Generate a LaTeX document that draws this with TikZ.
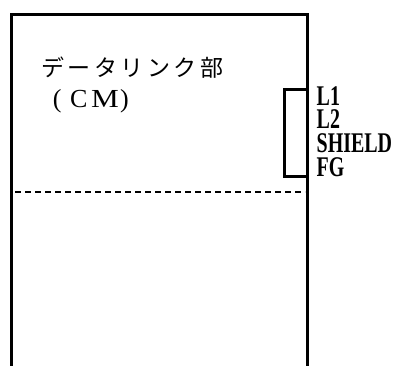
\documentclass[tikz,border=0pt]{standalone}
\usepackage{fontspec}
\setmainfont{Liberation Serif}
\newfontfamily\cjk{Noto Sans CJK JP}
\newcommand\jch[1]{\makebox[26.5pt]{#1}}
\newcommand\narrow[1]{\scalebox{0.70}[1]{#1}}
\begin{document}
\begin{tikzpicture}[x=1pt,y=-1pt,
  frame/.style={line width=3pt,line cap=butt,line join=miter},
  sep/.style={line width=1.3pt,dash pattern=on 6pt off 4pt},
  lbl/.style={anchor=base west,inner sep=0pt,align=left,
    font=\fontsize{28.5}{23.8}\selectfont\bfseries},
  jp/.style={anchor=base west,inner sep=0pt,font=\fontsize{23}{23}\selectfont\cjk},
  cmtxt/.style={anchor=base west,inner sep=0pt,font=\fontsize{26}{26}\selectfont}]
\useasboundingbox (0,0) rectangle (396,366);
% outer frame (open at bottom)
\draw[frame] (11,366) -- (11,14.5) -- (307,14.5) -- (307,366);
% terminal block
\draw[frame] (307,90) -- (284.5,90) -- (284.5,177) -- (307,177);
% dashed separator
\draw[sep] (15,192) -- (305,192);
% texts
\node[jp] (title) at (39.5,77) {\jch{デ}\jch{ー}\jch{タ}\jch{リ}\jch{ン}\jch{ク}\jch{部}};
\node[cmtxt] (cm) at (52.7,108) {(\hspace{8.6pt}C\hspace{3.5pt}\scalebox{1.2}[1]{M}\hspace{1.5pt})};
\node[lbl] (terms) at (316.5,176.5) {\narrow{L1}\\\narrow{L2}\\\narrow{SHIELD}\\\narrow{FG}};
\end{tikzpicture}
\end{document}
